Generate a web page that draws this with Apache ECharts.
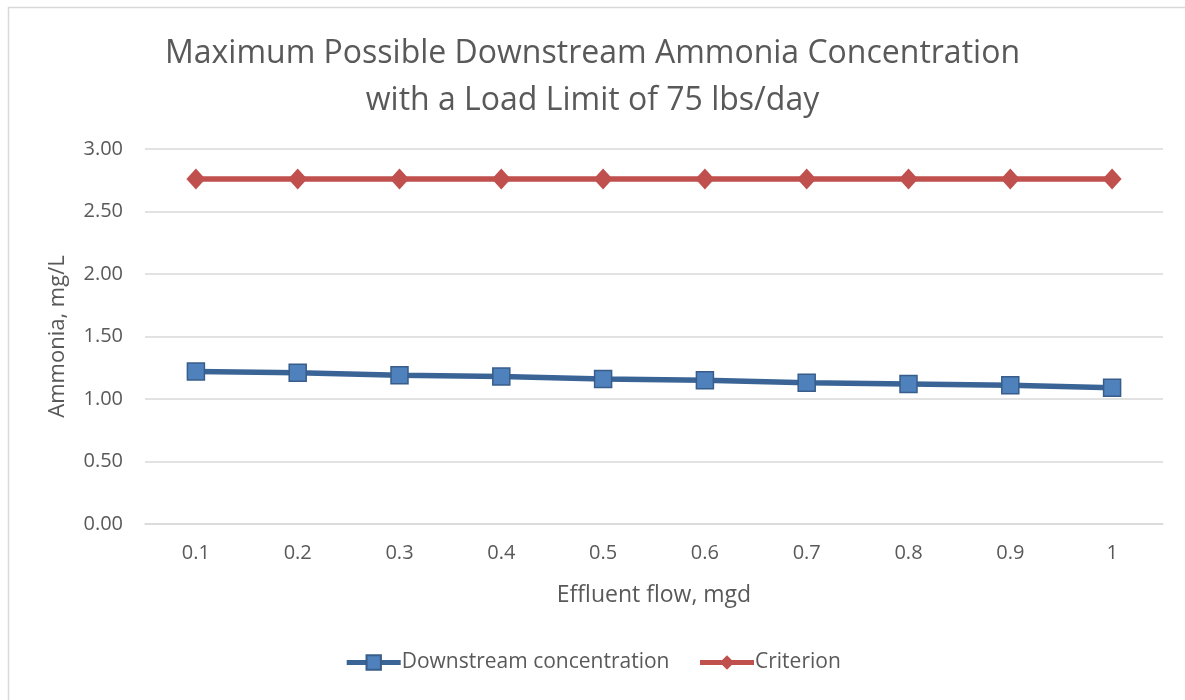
<!DOCTYPE html>
<html>
<head>
<meta charset="utf-8">
<script src="https://cdn.jsdelivr.net/npm/echarts@6/dist/echarts.min.js"></script>
<style>
html,body{margin:0;padding:0;background:#fff;}
#chart{width:1185px;height:700px;}
</style>
</head>
<body>
<div id="chart"></div>
<script>
const categories = ['0.1','0.2','0.3','0.4','0.5','0.6','0.7','0.8','0.9','1'];
const downstream = [1.22, 1.21, 1.19, 1.18, 1.16, 1.15, 1.13, 1.12, 1.11, 1.09];
const criterion = [2.76, 2.76, 2.76, 2.76, 2.76, 2.76, 2.76, 2.76, 2.76, 2.76];
const yTicks = {min: 0, max: 3, interval: 0.5};

const FONT = 'Open Sans';
const TXT = '#595959';
const chart = echarts.init(document.getElementById('chart'));
chart.setOption({
  animation: false,
  backgroundColor: '#fff',
  graphic: [{
    type: 'rect', left: 6, top: 5,
    shape: {width: 1300, height: 800},
    style: {fill: 'none', stroke: '#D9D9D9', lineWidth: 1.5},
    silent: true
  }],
  title: {
    text: 'Maximum Possible Downstream Ammonia Concentration\nwith a Load Limit of 75 lbs/day',
    left: 'center', top: 25,
    textStyle: {fontFamily: FONT, fontSize: 32, fontWeight: 'normal', color: TXT, lineHeight: 47}
  },
  grid: {left: 145, right: 22, top: 149, bottom: 176},
  legend: {
    bottom: 22, left: 'center',
    itemWidth: 54, itemHeight: 18, itemGap: 28,
    lineStyle: {width: 5},
    textStyle: {fontFamily: FONT, fontSize: 21, color: TXT, padding: [0,0,0,-4]},
    data: ['Downstream concentration', 'Criterion']
  },
  xAxis: {
    type: 'category', data: categories, boundaryGap: true,
    name: 'Effluent flow, mgd', nameLocation: 'middle', nameGap: 60,
    nameTextStyle: {fontFamily: FONT, fontSize: 23, color: TXT},
    axisLine: {show: true, lineStyle: {color: '#D9D9D9', width: 1.5}},
    axisTick: {show: false},
    axisLabel: {fontFamily: FONT, fontSize: 20, color: TXT, margin: 19}
  },
  yAxis: {
    type: 'value', min: yTicks.min, max: yTicks.max, interval: yTicks.interval,
    name: 'Ammonia, mg/L', nameLocation: 'middle', nameGap: 76, nameRotate: 90,
    nameTextStyle: {fontFamily: FONT, fontSize: 22, color: TXT},
    axisLine: {show: false}, axisTick: {show: false},
    splitLine: {lineStyle: {color: '#D9D9D9', width: 1.5}},
    axisLabel: {fontFamily: FONT, fontSize: 20, color: TXT, margin: 22, formatter: v => v.toFixed(2)}
  },
  series: [
    {
      name: 'Downstream concentration', type: 'line', data: downstream,
      symbol: 'rect', symbolSize: 17,
      lineStyle: {color: '#3A6496', width: 5.5},
      itemStyle: {color: '#4F81BD', borderColor: '#385D8A', borderWidth: 1.5},
      z: 3
    },
    {
      name: 'Criterion', type: 'line', data: criterion,
      symbol: 'diamond', symbolSize: [19, 21],
      lineStyle: {color: '#C0504D', width: 5.5},
      itemStyle: {color: '#C0504D', borderColor: '#C0504D', borderWidth: 0},
      z: 2
    }
  ]
});
</script>
</body>
</html>
